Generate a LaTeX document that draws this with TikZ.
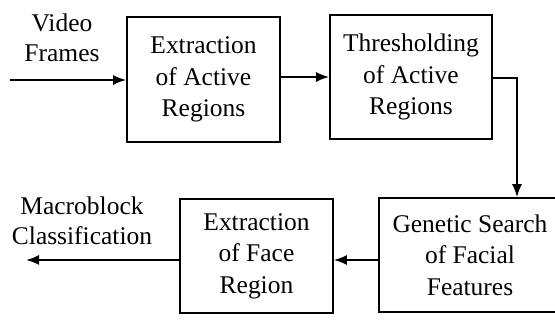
\documentclass[tikz,border=0pt]{standalone}
\usepackage{fontspec}
\setmainfont{Liberation Serif}
\usetikzlibrary{positioning,arrows.meta,calc}
\tikzset{
  flow/.style={-{Latex[length=2.6mm,width=2mm]},line width=1pt,draw=black},
  box/.style={draw=black,line width=1pt,align=center,inner sep=0pt,
    font=\fontsize{14.5}{18}\selectfont},
  label/.style={align=center,inner sep=0pt,font=\fontsize{14.5}{17}\selectfont}
}
\begin{document}
\begin{tikzpicture}
  \useasboundingbox (0,0) rectangle (11.1,-6.48);
  \node[box,minimum width=3.06cm,minimum height=2.5cm] (actv) at (4.07,-1.59) {Extraction\\of Active\\Regions};
  \node[box,minimum width=3.24cm,minimum height=2.48cm] (thrs) at (8.22,-1.54) {Thresholding\\of Active\\Regions};
  \node[box,minimum width=3.64cm,minimum height=2.28cm] (gnts) at (9.4,-5.1) {Genetic Search\\of Facial\\Features};
  \node[box,minimum width=3.06cm,minimum height=2.28cm] (face) at (5.13,-5.12) {Extraction\\of Face\\Region};
  \coordinate (vin) at (0.2,-1.6);
  \coordinate (turn) at (10.34,-1.56);
  \coordinate (mout) at (0.52,-5.2);
  \node[label] (vlbl) at (1.24,-0.75) {Video\\Frames};
  \node[label] (mlbl) at (1.64,-4.42) {Macroblock\\Classification};
  \draw[flow] (vin) -- (actv.west |- vin);
  \draw[flow] (actv.east |- thrs) -- (thrs.west);
  \draw[flow] (thrs.east |- turn) -- (turn) -- (turn |- gnts.north);
  \draw[flow] (gnts.west |- mout) -- (face.east |- mout);
  \draw[flow] (face.west |- mout) -- (mout);
\end{tikzpicture}
\end{document}
